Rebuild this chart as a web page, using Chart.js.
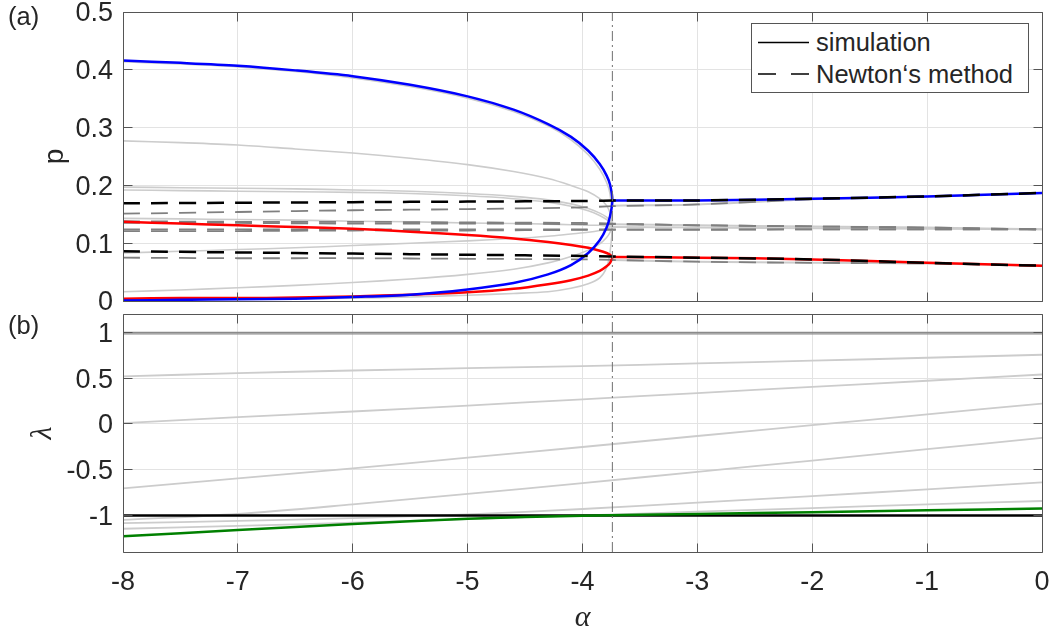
<!DOCTYPE html>
<html>
<head>
<meta charset="utf-8">
<title>p and λ versus α</title>
<script src="https://cdn.jsdelivr.net/npm/chart.js@4.4.1/dist/chart.umd.min.js"></script>
<style>
  body { margin: 0; background: #fff; }
  #wrap { position: relative; width: 1052px; height: 630px; font-family: 'Liberation Sans', Arial, sans-serif; color: #262626; }
  #wrap canvas { position: absolute; left: 0; top: 0; }
  .tag { position: absolute; left: 8px; font-size: 25.5px; line-height: 30px; }
  #legend { position: absolute; left: 751px; top: 23px; width: 278px; height: 70px; box-sizing: border-box; border: 1px solid #555; background: #fff; font-size: 25.5px; line-height: 30px; }
  #legend svg { position: absolute; left: 0; top: 0; }
  #legend span { position: absolute; left: 64px; white-space: nowrap; }
</style>
</head>
<body>
<div id="wrap">
  <canvas id="pChart" width="1052" height="630"></canvas>
  <canvas id="lambdaChart" width="1052" height="630"></canvas>
  <div class="tag" style="top:1px">(a)</div>
  <div class="tag" style="top:310px">(b)</div>
  <div id="legend">
    <svg width="276" height="68">
      <line x1="6" y1="18.5" x2="57" y2="18.5" stroke="#000" stroke-width="1.5"/>
      <line x1="6" y1="50" x2="57" y2="50" stroke="#000" stroke-width="1.5" stroke-dasharray="18 15"/>
    </svg>
    <span style="top:3px">simulation</span>
    <span style="top:35px">Newton‘s method</span>
  </div>
</div>
<script>
// axes
const alphaTicks = [-8, -7, -6, -5, -4, -3, -2, -1, 0];
const alphaTickLabels = ['-8', '-7', '-6', '-5', '-4', '-3', '-2', '-1', '0'];
const pTicks = [0, 0.1, 0.2, 0.3, 0.4, 0.5];
const pTickLabels = ['0', '0.1', '0.2', '0.3', '0.4', '0.5'];
const lambdaTicks = [-1, -0.5, 0, 0.5, 1];
const lambdaTickLabels = ['-1', '-0.5', '0', '0.5', '1'];
const alphaCritical = -3.74;

// (a) branches left of the bifurcation, upper and lower half of each fold
const alphaBranch = [-8, -7.5, -7, -6.5, -6, -5.5, -5, -4.6, -4.3, -4.1, -3.95, -3.85, -3.79, -3.76, -3.74];
const blueUpper = [0.416, 0.412, 0.407, 0.399, 0.389, 0.374, 0.354, 0.331, 0.306, 0.284, 0.260, 0.237, 0.217, 0.201, 0.174];
const blueLower = [0.001, 0.002, 0.003, 0.004, 0.007, 0.011, 0.020, 0.031, 0.046, 0.062, 0.083, 0.105, 0.127, 0.147, 0.174];
const redUpper = [0.137, 0.134, 0.131, 0.128, 0.125, 0.120, 0.114, 0.108, 0.102, 0.097, 0.092, 0.087, 0.083, 0.080, 0.076];
const redLower = [0.004, 0.005, 0.005, 0.006, 0.008, 0.011, 0.015, 0.021, 0.029, 0.036, 0.044, 0.052, 0.060, 0.066, 0.076];
const grayUpper1 = [0.414, 0.410, 0.405, 0.397, 0.386, 0.371, 0.351, 0.328, 0.303, 0.279, 0.253, 0.228, 0.205, 0.185, 0.135];
const grayLower1 = [0.002, 0.003, 0.003, 0.004, 0.005, 0.007, 0.010, 0.013, 0.016, 0.022, 0.030, 0.040, 0.058, 0.085, 0.135];
const grayUpper2 = [0.277, 0.274, 0.270, 0.263, 0.256, 0.247, 0.236, 0.224, 0.212, 0.200, 0.189, 0.177, 0.165, 0.152, 0.132];
const grayLower2 = [0.016, 0.019, 0.023, 0.027, 0.032, 0.038, 0.046, 0.055, 0.066, 0.077, 0.088, 0.099, 0.110, 0.119, 0.132];
const grayUpper3 = [0.197, 0.196, 0.195, 0.194, 0.192, 0.190, 0.186, 0.181, 0.175, 0.168, 0.160, 0.152, 0.145, 0.139, 0.131];
const grayLower3 = [0.083, 0.086, 0.089, 0.092, 0.096, 0.100, 0.104, 0.108, 0.112, 0.116, 0.119, 0.122, 0.125, 0.128, 0.131];
const grayUpper4 = [0.192, 0.191, 0.190, 0.189, 0.188, 0.186, 0.182, 0.177, 0.171, 0.164, 0.156, 0.148, 0.141, 0.136, 0.130];
const grayLower4 = [0.143, 0.142, 0.141, 0.140, 0.138, 0.137, 0.135, 0.134, 0.133, 0.132, 0.131, 0.131, 0.130, 0.130, 0.130];

// (a) right of the bifurcation
const alphaRight = [-3.74, -3, -2, -1, 0];
const blueRight = [0.174, 0.174, 0.177, 0.181, 0.187];
const redRight = [0.076, 0.075, 0.072, 0.066, 0.061];
const grayRight1 = [0.165, 0.167, 0.176, 0.181, 0.187];
const grayRight2 = [0.133, 0.131, 0.129, 0.127, 0.124];
const grayRight3 = [0.128, 0.127, 0.126, 0.125, 0.124];
const grayRight4 = [0.071, 0.068, 0.066, 0.065, 0.061];

// (a) Newton's method
const alphaNewton = [-8, -7, -6, -5, -4, -3.74, -3, -2, -1, 0];
const newtonBlack1 = [0.169, 0.170, 0.171, 0.172, 0.173, 0.174, 0.174, 0.177, 0.181, 0.187];
const newtonBlack2 = [0.086, 0.084, 0.082, 0.080, 0.078, 0.077, 0.075, 0.072, 0.066, 0.061];
const newtonGray1 = [0.151, 0.154, 0.157, 0.159, 0.162, 0.164, 0.167, 0.176, 0.181, 0.187];
const newtonGray2 = [0.138, 0.137, 0.137, 0.136, 0.135, 0.134, 0.131, 0.129, 0.127, 0.124];
const newtonGray3 = [0.135, 0.135, 0.134, 0.134, 0.133, 0.133, 0.131, 0.129, 0.127, 0.124];
const newtonGray4 = [0.124, 0.124, 0.124, 0.124, 0.124, 0.124, 0.124, 0.124, 0.124, 0.124];
const newtonGray5 = [0.121, 0.121, 0.122, 0.122, 0.123, 0.123, 0.123, 0.124, 0.124, 0.124];
const newtonGray6 = [0.075, 0.074, 0.074, 0.073, 0.072, 0.071, 0.068, 0.066, 0.065, 0.061];

// (b) eigenvalues
const alphaLambda = [-8, -7, -6, -5, -4, -3, -2, -1, 0];
const lambdaOne = [1, 1, 1, 1, 1, 1, 1, 1, 1];
const lambdaOneB = [0.983, 0.983, 0.983, 0.983, 0.983, 0.983, 0.983, 0.983, 0.983];
const lambdaA = [0.518, 0.554, 0.583, 0.608, 0.630, 0.660, 0.690, 0.722, 0.755];
const lambdaB = [0.007, 0.073, 0.135, 0.200, 0.268, 0.336, 0.404, 0.471, 0.539];
const lambdaC = [-0.705, -0.595, -0.486, -0.370, -0.253, -0.133, -0.015, 0.104, 0.222];
const lambdaD = [-1.050, -0.985, -0.880, -0.765, -0.648, -0.524, -0.401, -0.277, -0.153];
const lambdaE = [-1.085, -1.060, -1.030, -0.990, -0.930, -0.860, -0.790, -0.715, -0.639];
const lambdaF = [-1.146, -1.115, -1.080, -1.040, -1.000, -0.960, -0.920, -0.880, -0.843];
const lambdaGreen = [-1.229, -1.160, -1.094, -1.038, -1.003, -0.985, -0.965, -0.945, -0.926];
const lambdaBlack = [-1, -1, -1, -1, -1, -1, -1, -1, -1];

const sans = "'Liberation Sans', Arial, Helvetica, sans-serif";
const serif = "'Liberation Serif', 'DejaVu Serif', serif";
const textColor = '#262626';
const gridColor = '#e3e3e3';
const lightGray = '#cccccc';
const midGray = '#808080';
const dash = [17, 11];

function pts(xs, ys) {
  return xs.map((x, i) => ({ x: x, y: ys[i] }));
}

function fold(upper, lower) {
  return pts(alphaBranch, upper).concat(pts(alphaBranch, lower).reverse().slice(1));
}

function line(data, color, width, order, opts) {
  return Object.assign({
    data: data,
    borderColor: color,
    borderWidth: width,
    pointRadius: 0,
    fill: false,
    tension: 0.3,
    order: order
  }, opts || {});
}

// MATLAB style box with inward ticks on all four sides
const axesBox = {
  id: 'axesBox',
  afterDraw(chart) {
    const { ctx, chartArea: a, scales } = chart;
    const al = v => Math.round(v - 0.5) + 0.5;
    const L = al(a.left), R = al(a.right), T = al(a.top), B = al(a.bottom);
    ctx.save();
    ctx.strokeStyle = '#555';
    ctx.lineWidth = 1;
    ctx.beginPath();
    ctx.rect(L, T, R - L, B - T);
    scales.x.ticks.forEach(t => {
      const px = al(scales.x.getPixelForValue(t.value));
      ctx.moveTo(px, T); ctx.lineTo(px, T + 9);
      ctx.moveTo(px, B); ctx.lineTo(px, B - 9);
    });
    scales.y.ticks.forEach(t => {
      const py = al(scales.y.getPixelForValue(t.value));
      ctx.moveTo(L, py); ctx.lineTo(L + 9, py);
      ctx.moveTo(R, py); ctx.lineTo(R - 9, py);
    });
    ctx.stroke();
    ctx.restore();
  }
};

function xScale(showLabels) {
  return {
    type: 'linear',
    min: -8,
    max: 0,
    afterBuildTicks: s => { s.ticks = alphaTicks.map(v => ({ value: v })); },
    afterFit: s => {
      s.height = showLabels ? 78 : 0;
      s.paddingLeft = 0; s.paddingRight = 0;
    },
    grid: { color: gridColor, drawTicks: false },
    border: { display: false },
    ticks: {
      display: showLabels,
      autoSkip: false,
      maxRotation: 0,
      padding: 14,
      color: textColor,
      font: { family: sans, size: 27 },
      callback: (v, i) => alphaTickLabels[i]
    },
    title: {
      display: showLabels,
      text: 'α',
      color: textColor,
      font: { family: serif, size: 30, style: 'italic' },
      padding: { top: 0, bottom: -6 }
    }
  };
}

function yScale(min, max, ticks, labels, title, titleFont, titlePad) {
  return {
    min: min,
    max: max,
    afterBuildTicks: s => { s.ticks = ticks.map(v => ({ value: v })); },
    afterFit: s => {
      s.width = 123;
      s.paddingTop = 0; s.paddingBottom = 0;
    },
    grid: { color: gridColor, drawTicks: false },
    border: { display: false },
    ticks: {
      autoSkip: false,
      padding: 10,
      labelOffset: 2,
      color: textColor,
      font: { family: sans, size: 27 },
      callback: (v, i) => labels[i]
    },
    title: {
      display: true,
      text: title,
      color: textColor,
      font: titleFont,
      padding: { top: titlePad, bottom: 0 }
    }
  };
}

const common = {
  responsive: false,
  animation: false,
  events: [],
  plugins: { legend: { display: false }, tooltip: { enabled: false } }
};

const pDatasets = [
  line([{ x: alphaCritical, y: 0 }, { x: alphaCritical, y: 0.5 }], '#707070', 1, 0, { tension: 0, borderDash: [10, 4, 2, 4] }),
  line(fold(grayUpper1, grayLower1), lightGray, 1.6, 6),
  line(fold(grayUpper2, grayLower2), lightGray, 1.6, 6),
  line(fold(grayUpper3, grayLower3), lightGray, 1.6, 6),
  line(fold(grayUpper4, grayLower4), lightGray, 1.6, 6),
  line(pts(alphaRight, grayRight1), lightGray, 2, 6),
  line(pts(alphaRight, grayRight2), lightGray, 2, 6),
  line(pts(alphaRight, grayRight3), lightGray, 2, 6),
  line(pts(alphaRight, grayRight4), lightGray, 2, 6),
  line(pts(alphaNewton, newtonGray1), midGray, 1.8, 5, { borderDash: dash }),
  line(pts(alphaNewton, newtonGray2), midGray, 1.8, 5, { borderDash: dash }),
  line(pts(alphaNewton, newtonGray3), midGray, 1.8, 5, { borderDash: dash }),
  line(pts(alphaNewton, newtonGray4), midGray, 1.8, 5, { borderDash: dash }),
  line(pts(alphaNewton, newtonGray5), midGray, 1.8, 5, { borderDash: dash }),
  line(pts(alphaNewton, newtonGray6), midGray, 1.8, 5, { borderDash: dash }),
  line(fold(blueUpper, blueLower), '#0000ff', 2.5, 3),
  line(fold(redUpper, redLower), '#ff0000', 2.5, 3),
  line(pts(alphaRight, blueRight), '#0000ff', 2.5, 3),
  line(pts(alphaRight, redRight), '#ff0000', 2.5, 3),
  line(pts(alphaNewton, newtonBlack1), '#000000', 2.5, 1, { borderDash: dash }),
  line(pts(alphaNewton, newtonBlack2), '#000000', 2.5, 1, { borderDash: dash })
];

new Chart(document.getElementById('pChart'), {
  type: 'line',
  data: { datasets: pDatasets },
  options: Object.assign({}, common, {
    layout: { padding: { left: 0, right: 10, top: 12, bottom: 329 } },
    scales: {
      x: xScale(false),
      y: yScale(0, 0.5, pTicks, pTickLabels, 'p', { family: sans, size: 28 }, 38)
    }
  }),
  plugins: [axesBox]
});

const lambdaDatasets = [
  line([{ x: alphaCritical, y: -1.4 }, { x: alphaCritical, y: 1.2 }], '#707070', 1, 0, { tension: 0, borderDash: [10, 4, 2, 4] }),
  line(pts(alphaLambda, lambdaOne), '#8a8a8a', 1.2, 4, { tension: 0 }),
  line(pts(alphaLambda, lambdaOneB), '#8a8a8a', 1.2, 4, { tension: 0 }),
  line(pts(alphaLambda, lambdaA), lightGray, 1.8, 5),
  line(pts(alphaLambda, lambdaB), lightGray, 1.8, 5),
  line(pts(alphaLambda, lambdaC), lightGray, 1.8, 5),
  line(pts(alphaLambda, lambdaD), lightGray, 1.8, 5),
  line(pts(alphaLambda, lambdaE), lightGray, 1.8, 5),
  line(pts(alphaLambda, lambdaF), lightGray, 1.8, 5),
  line(pts(alphaLambda, lambdaBlack), '#000000', 2.5, 3, { tension: 0 }),
  line(pts(alphaLambda, lambdaGreen), '#008000', 2.5, 2)
];

new Chart(document.getElementById('lambdaChart'), {
  type: 'line',
  data: { datasets: lambdaDatasets },
  options: Object.assign({}, common, {
    layout: { padding: { left: 0, right: 10, top: 314, bottom: 0 } },
    scales: {
      x: xScale(true),
      y: yScale(-1.4, 1.2, lambdaTicks, lambdaTickLabels, 'λ', { family: serif, size: 30, style: 'italic' }, 25)
    }
  }),
  plugins: [axesBox]
});
</script>
</body>
</html>
